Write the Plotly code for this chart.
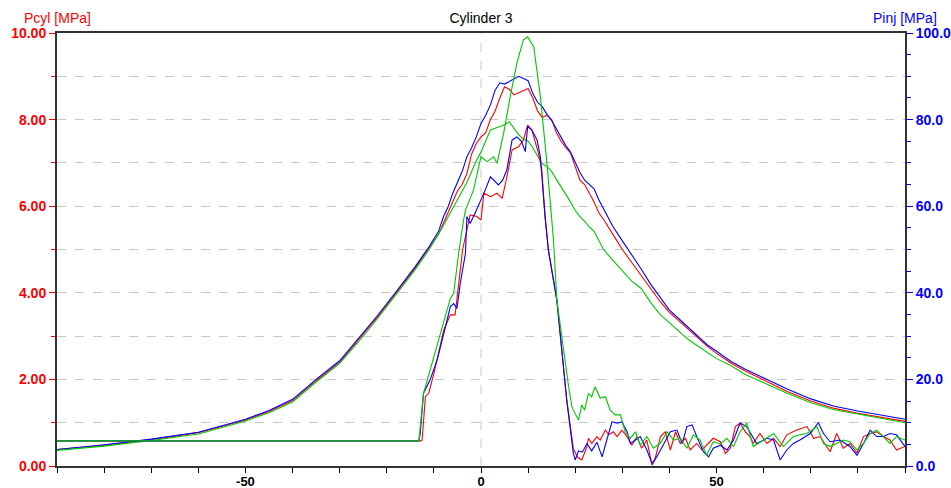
import plotly.graph_objects as go

# ---------------- data ----------------
x_tick_vals = [-50, 0, 50]
x_tick_text = ["-50", "0", "50"]

# Cylinder pressure Pcyl [MPa] (left axis)
cyl_x = [-90, -80, -70, -60, -50, -45, -40, -35, -30, -26, -22, -18, -14, -11, -10, -9, -8, -7, -6, -5,
         -4, -3, -2, -1, 0, 1, 2, 3, 4, 5, 6, 7, 8, 9, 10, 11, 12, 13, 14, 15, 16, 17, 18, 19, 20,
         21, 22, 23, 24, 25, 26, 28, 30, 32, 34, 36, 38, 40, 42, 44, 46, 48, 50, 53, 56, 60, 65,
         70, 75, 80, 85, 90]
cyl_blue = [0.38, 0.49, 0.62, 0.78, 1.08, 1.28, 1.54, 2.00, 2.43, 2.94, 3.47, 4.03, 4.60, 5.07, 5.25, 5.42,
            5.75, 5.98, 6.30, 6.55, 6.80, 7.14, 7.35, 7.60, 7.91, 8.10, 8.34, 8.68, 8.85, 8.82, 8.88, 8.93,
            9.00, 8.95, 8.90, 8.60, 8.40, 8.30, 8.12, 7.98, 7.78, 7.58, 7.40, 7.25, 7.00, 6.78, 6.60, 6.50,
            6.40, 6.15, 5.95, 5.53, 5.20, 4.88, 4.55, 4.20, 3.90, 3.60, 3.40, 3.20, 3.00, 2.80, 2.65, 2.42,
            2.24, 2.03, 1.78, 1.55, 1.38, 1.27, 1.18, 1.08]
cyl_red = [0.38, 0.48, 0.61, 0.77, 1.06, 1.26, 1.51, 1.97, 2.40, 2.91, 3.44, 4.00, 4.57, 5.04, 5.20, 5.35,
           5.60, 5.85, 6.10, 6.35, 6.50, 6.75, 7.20, 7.45, 7.60, 7.70, 8.00, 8.20, 8.50, 8.76, 8.70, 8.57,
           8.62, 8.68, 8.72, 8.50, 8.20, 8.05, 8.10, 8.00, 7.70, 7.50, 7.35, 7.23, 6.90, 6.60, 6.50, 6.30,
           6.10, 5.85, 5.70, 5.35, 5.00, 4.70, 4.40, 4.08, 3.80, 3.55, 3.35, 3.15, 2.95, 2.77, 2.60, 2.38,
           2.20, 1.98, 1.72, 1.50, 1.33, 1.22, 1.12, 1.03]
cyl_green = [0.36, 0.46, 0.59, 0.74, 1.04, 1.23, 1.48, 1.94, 2.37, 2.87, 3.40, 3.96, 4.53, 5.00, 5.18, 5.35,
             5.55, 5.75, 5.95, 6.15, 6.35, 6.55, 6.80, 7.05, 7.25, 7.50, 7.76, 7.80, 7.84, 7.88, 7.95, 7.80,
             7.65, 7.55, 7.50, 7.35, 7.15, 6.98, 6.92, 6.80, 6.62, 6.45, 6.30, 6.10, 5.90, 5.76, 5.65, 5.52,
             5.42, 5.20, 5.00, 4.75, 4.50, 4.27, 4.10, 3.78, 3.50, 3.30, 3.10, 2.92, 2.77, 2.62, 2.48, 2.32,
             2.12, 1.92, 1.68, 1.46, 1.30, 1.20, 1.10, 1.00]

# Injection pressure Pinj [MPa] (right axis)
inj_blue_x = [-90, -13.2, -12.9, -12.2, -10.8, -9.3, -7.9, -6.5, -5.8, -5.1, -4.4, -3.3, -3.0, -2.3, -1.0, 0,
              1.0, 2.0, 2.7, 3.7, 4.6, 5.5, 6.6, 7.6, 8.6, 9.4, 9.9, 10.8, 11.9, 12.6, 13.6, 14.3, 16.1,
              18.2, 19.6, 20.0, 20.7, 21.5, 22.5, 23.5, 24.6, 25.7, 26.7, 27.8, 28.9, 29.9, 31.0, 31.7,
              32.8, 33.8, 35.2, 36.3, 37.3, 38.8, 40.2, 41.6, 42.7, 43.7, 44.8, 45.8, 47.2, 48.3, 49.3,
              50.8, 52.2, 53.6, 55.0, 56.4, 58.5, 60.7, 62.1, 63.5, 64.9, 66.3, 67.7, 69.9, 71.6, 72.7,
              74.1, 76.2, 78.3, 79.8, 81.2, 82.6, 84.0, 85.4, 86.8, 88.2, 90]
inj_blue = [5.8, 5.8, 7.5, 16.8, 19.9, 24.5, 30.6, 36.8, 37.5, 36.4, 42.2, 49.1, 57.6, 56.0, 59.0, 61.4,
            64.0, 66.8, 66.0, 64.9, 66.0, 68.4, 75.3, 76.0, 75.0, 72.6, 78.4, 77.6, 75.3, 71.4, 57.6, 49.9, 38.3,
            15.2, 2.9, 1.4, 3.5, 3.2, 5.2, 3.5, 5.5, 2.1, 6.0, 10.2, 9.9, 10.2, 7.9, 5.2,
            6.0, 6.8, 3.7, 0.6, 2.1, 5.2, 7.9, 8.3, 5.2, 9.1, 9.5, 6.8, 3.3, 2.1, 4.1,
            4.8, 3.7, 6.0, 9.9, 9.1, 5.2, 6.4, 6.0, 1.4, 3.7, 5.2, 6.0, 7.5, 10.0, 7.5,
            5.6, 6.0, 4.5, 2.5, 5.2, 8.3, 6.8, 6.8, 7.5, 7.2, 4.5]

inj_red_x = [-90, -12.7, -12.5, -11.8, -11.1, -10.0, -7.9, -6.5, -5.5, -4.75, -3.9, -3.0, -2.3, -0.85, 0,
             0.6, 2.0, 3.4, 4.5, 5.5, 6.6, 8.0, 9.0, 9.9, 10.8, 12.2, 12.9, 13.6, 14.3, 16.1, 18.2, 19.6,
             20.5, 21.4, 22.5, 22.8, 23.5, 24.6, 25.3, 26.4, 27.1, 28.1, 28.9, 29.9, 31.0, 32.0, 33.1,
             34.1, 35.2, 36.3, 36.9, 38.1, 39.1, 40.2, 41.3, 42.3, 43.4, 44.4, 45.8, 46.9, 47.9, 49.3,
             50.8, 51.9, 52.9, 54.0, 55.0, 56.1, 57.1, 57.8, 59.2, 60.7, 62.1, 63.5, 64.9, 67.0, 69.2,
             70.6, 72.0, 74.1, 75.5, 76.9, 78.3, 79.8, 81.2, 82.6, 84.0, 85.4, 86.8, 88.2, 90]
inj_red = [5.8, 5.8, 6.0, 16.0, 16.8, 21.4, 31.4, 34.9, 34.9, 42.2, 50.0, 54.5, 58.0, 57.6, 56.8,
           63.0, 62.2, 63.0, 61.8, 66.8, 73.0, 73.8, 75.3, 78.7, 77.6, 72.2, 68.4, 57.6, 49.9, 38.3, 15.2, 4.0,
           2.0, 1.4, 4.5, 6.4, 5.2, 6.8, 6.0, 8.3, 7.2, 7.9, 6.8, 8.3, 6.8, 4.8, 6.8,
           4.1, 6.0, 0.2, 1.4, 6.8, 7.9, 3.7, 7.9, 5.2, 6.4, 3.7, 5.2, 3.7, 4.8, 6.4,
           5.6, 2.9, 4.1, 9.1, 9.9, 7.9, 6.8, 5.2, 7.5, 5.2, 6.4, 4.5, 7.2, 8.3, 9.1,
           6.4, 6.8, 3.3, 7.5, 4.1, 5.2, 3.0, 6.8, 7.5, 7.9, 6.8, 6.0, 3.7, 4.5]

inj_green_x = [-90, -13.2, -12.2, -10.4, -8.3, -6.5, -5.8, -4.75, -3.7, -3.3, -1.6, 0, 1.3, 2.7, 3.4, 4.8,
               6.2, 7.6, 9.0, 9.9, 11.2, 12.6, 14.0, 15.4, 16.1, 17.5, 18.6, 19.3, 19.6, 20.7, 21.4, 22.0,
               22.8, 23.5, 24.2, 25.3, 26.4, 27.4, 28.5, 29.6, 30.6, 31.7, 32.8, 33.8, 35.2, 36.6, 38.1,
               39.5, 40.9, 42.3, 43.7, 45.1, 46.5, 47.9, 49.3, 50.8, 52.2, 53.6, 55.0, 56.4, 57.8, 60.0,
               62.1, 64.2, 66.3, 67.7, 69.2, 71.3, 72.7, 74.1, 75.5, 76.9, 78.3, 79.8, 81.2, 82.6, 84.0,
               85.4, 86.8, 88.2, 90]
inj_green = [5.8, 5.8, 16.8, 23.7, 31.4, 38.7, 39.9, 49.1, 56.8, 59.1, 63.7, 71.4, 70.3, 71.4, 69.9, 76.8,
             85.3, 93.0, 98.4, 99.1, 96.8, 85.3, 69.9, 52.0, 38.3, 26.8, 18.3, 13.7, 12.9, 10.6, 14.1, 12.9,
             16.8, 16.0, 18.3, 15.7, 16.0, 12.9, 11.8, 11.8, 7.9, 6.4, 7.9, 4.8, 6.8, 4.1, 5.3,
             7.9, 6.0, 6.4, 4.1, 7.2, 6.0, 2.5, 5.6, 5.1, 6.4, 4.5, 7.9, 9.9, 4.5, 6.0,
             7.5, 4.5, 6.8, 7.2, 7.5, 9.1, 5.2, 4.5, 5.2, 6.0, 5.6, 3.7, 5.2, 7.5, 8.3,
             6.8, 5.2, 6.8, 6.0]

RED = "#FF0000"
BLUE = "#0000FF"
GREEN = "#00C800"
FONT = "Liberation Sans, Arial, sans-serif"

fig = go.Figure()
for x, y, c in [(cyl_x, cyl_red, RED), (cyl_x, cyl_blue, BLUE), (cyl_x, cyl_green, GREEN)]:
    fig.add_trace(go.Scatter(x=x, y=y, mode="lines", line=dict(color=c, width=1.1),
                             yaxis="y", showlegend=False, hoverinfo="skip"))
for x, y, c in [(inj_red_x, inj_red, RED), (inj_blue_x, inj_blue, BLUE), (inj_green_x, inj_green, GREEN)]:
    fig.add_trace(go.Scatter(x=x, y=y, mode="lines", line=dict(color=c, width=1.1),
                             yaxis="y2", showlegend=False, hoverinfo="skip"))

GRID = "#C8C8C8"
fig.update_layout(
    width=951, height=488,
    margin=dict(l=57, r=46, t=33, b=22, autoexpand=False),
    paper_bgcolor="white", plot_bgcolor="white",
    font=dict(family=FONT, size=13, color="black"),
    title=dict(text="Cylinder 3", x=0.5, xref="paper", xanchor="center",
               y=1 - 18 / 488, yref="container", yanchor="middle",
               font=dict(family=FONT, size=14, color="black")),
    xaxis=dict(range=[-90, 90], tickmode="array", tickvals=x_tick_vals, ticktext=x_tick_text,
               ticks="outside", ticklen=5, tickcolor="black",
               tickfont=dict(family=FONT, size=13, color="black", weight="bold"),
               ticklabelstandoff=-3,
               showline=True, linecolor="#333333", linewidth=2, mirror=True, automargin=False,
               showgrid=False, zeroline=False,
               minor=dict(dtick=10, tick0=0, ticks="outside", ticklen=5, tickcolor="black", showgrid=False)),
    yaxis=dict(range=[0, 10], dtick=2, tick0=0, tickformat=".2f", ticks="outside", ticklen=6,
               tickcolor=RED, tickfont=dict(family=FONT, size=14, color=RED, weight="bold"),
               showline=True, linecolor="#333333", linewidth=2, automargin=False,
               showgrid=True, gridcolor=GRID, griddash="dash", gridwidth=1, zeroline=False,
               minor=dict(dtick=1, tick0=0, ticks="outside", ticklen=4, tickcolor=RED,
                          showgrid=True, gridcolor=GRID, griddash="dash", gridwidth=1)),
    yaxis2=dict(range=[0, 100], dtick=20, tick0=0, tickformat=".1f", overlaying="y", side="right",
                ticks="outside", ticklen=6, tickcolor=BLUE, automargin=False,
                tickfont=dict(family=FONT, size=14, color=BLUE, weight="bold"),
                showline=True, linecolor="#333333", linewidth=2, showgrid=False, zeroline=False,
                minor=dict(dtick=5, tick0=0, ticks="outside", ticklen=4, tickcolor=BLUE, showgrid=False)),
    annotations=[
        dict(text="Pcyl [MPa]", xref="paper", yref="paper", x=0, y=1 + 15 / 433,
             xanchor="center", yanchor="middle", showarrow=False,
             font=dict(family=FONT, size=14, color=RED)),
        dict(text="Pinj [MPa]", xref="paper", yref="paper", x=1, y=1 + 15 / 433,
             xanchor="center", yanchor="middle", showarrow=False,
             font=dict(family=FONT, size=14, color=BLUE)),
    ],
    shapes=[dict(type="line", xref="x", yref="paper", x0=0, x1=0, y0=0, y1=1,
                 line=dict(color=GRID, width=1, dash="dash"), layer="below")],
)

fig.write_html("out.html")
